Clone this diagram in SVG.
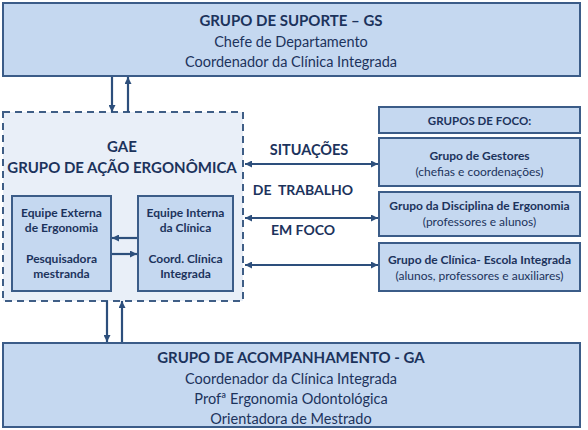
<svg xmlns="http://www.w3.org/2000/svg" width="588" height="430" viewBox="0 0 588 430">
<defs>
<marker id="ah" viewBox="0 0 10 10" refX="10" refY="5" markerWidth="8" markerHeight="7" markerUnits="userSpaceOnUse" orient="auto-start-reverse">
<path d="M0,0 L10,5 L0,10 z" fill="#2d4f7c"/>
</marker>
<style>
.box{fill:#c5d8f0;stroke:#3b5c88;stroke-width:2}
.gae{fill:#e9eff8;stroke:#3f5e86;stroke-width:2;stroke-dasharray:7,5}
.t{font-family:Lato,"Liberation Sans",sans-serif;fill:#1c335c;text-anchor:middle}
.b{font-weight:bold}
.ln{stroke:#2d4f7c;stroke-width:2.2;fill:none}
</style>
</defs>
<rect width="588" height="430" fill="#ffffff"/>
<g id="gs">
<rect class="box" x="3" y="3" width="577" height="73"/>
<text class="t b" x="291" y="26" font-size="15">GRUPO DE SUPORTE – GS</text>
<text class="t" x="291" y="47" font-size="14.5">Chefe de Departamento</text>
<text class="t" x="291" y="67" font-size="14.5">Coordenador da Clínica Integrada</text>
</g>
<g id="gae">
<rect class="gae" x="3" y="112" width="240" height="189"/>
<text class="t b" x="122" y="152" font-size="15">GAE</text>
<text class="t b" x="122" y="173" font-size="15">GRUPO DE AÇÃO ERGONÔMICA</text>
</g>
<g id="externa">
<rect class="box" x="12" y="196" width="99" height="95"/>
<text class="t b" x="61.5" y="217" font-size="12">Equipe Externa</text>
<text class="t b" x="61.5" y="232" font-size="12">de Ergonomia</text>
<text class="t b" x="61.5" y="263" font-size="12">Pesquisadora</text>
<text class="t b" x="61.5" y="278" font-size="12">mestranda</text>
</g>
<g id="interna">
<rect class="box" x="138" y="196" width="95" height="95"/>
<text class="t b" x="185.5" y="217" font-size="12">Equipe Interna</text>
<text class="t b" x="185.5" y="232" font-size="12">da Clínica</text>
<text class="t b" x="185.5" y="263" font-size="12">Coord. Clínica</text>
<text class="t b" x="185.5" y="278" font-size="12">Integrada</text>
</g>
<g id="situacoes">
<text class="t b" x="309" y="155" font-size="14.5">SITUAÇÕES</text>
<text class="t b" x="303" y="195" font-size="14" xml:space="preserve">DE  TRABALHO</text>
<text class="t b" x="303" y="235" font-size="14">EM FOCO</text>
</g>
<g id="focos">
<rect class="box" x="379" y="107" width="201" height="26"/>
<text class="t b" x="479.5" y="125" font-size="11.5">GRUPOS DE FOCO:</text>
</g>
<g id="gestores">
<rect class="box" x="379" y="138" width="201" height="48"/>
<text class="t b" x="479.5" y="160" font-size="12">Grupo de Gestores</text>
<text class="t" x="479.5" y="176" font-size="12">(chefias e coordenações)</text>
</g>
<g id="disciplina">
<rect class="box" x="379" y="192" width="201" height="44"/>
<text class="t b" x="479.5" y="210" font-size="12">Grupo da Disciplina de Ergonomia</text>
<text class="t" x="479.5" y="226" font-size="12">(professores e alunos)</text>
</g>
<g id="clinica">
<rect class="box" x="379" y="243" width="201" height="48"/>
<text class="t b" x="479.5" y="264" font-size="12">Grupo de Clínica- Escola Integrada</text>
<text class="t" x="479.5" y="280" font-size="12">(alunos, professores e auxiliares)</text>
</g>
<g id="ga">
<rect class="box" x="3" y="343" width="577" height="84"/>
<text class="t b" x="291" y="363" font-size="15">GRUPO DE ACOMPANHAMENTO - GA</text>
<text class="t" x="291" y="384" font-size="14.5">Coordenador da Clínica Integrada</text>
<text class="t" x="291" y="404" font-size="14.5">Profª Ergonomia Odontológica</text>
<text class="t" x="291" y="424" font-size="14.5">Orientadora de Mestrado</text>
</g>
<g id="connectors">
<line class="ln" x1="112" y1="77" x2="112" y2="112" marker-end="url(#ah)"/>
<line class="ln" x1="128" y1="112" x2="128" y2="77" marker-end="url(#ah)"/>
<line class="ln" x1="107" y1="301" x2="107" y2="342" marker-end="url(#ah)"/>
<line class="ln" x1="122" y1="342" x2="122" y2="301" marker-end="url(#ah)"/>
<line class="ln" x1="245" y1="164" x2="378" y2="164" marker-start="url(#ah)" marker-end="url(#ah)"/>
<line class="ln" x1="245" y1="218" x2="378" y2="218" marker-start="url(#ah)" marker-end="url(#ah)"/>
<line class="ln" x1="245" y1="265" x2="378" y2="265" marker-start="url(#ah)" marker-end="url(#ah)"/>
<line class="ln" x1="137" y1="238" x2="112" y2="238" marker-end="url(#ah)"/>
<line class="ln" x1="112" y1="254" x2="137" y2="254" marker-end="url(#ah)"/>
</g>
</svg>
